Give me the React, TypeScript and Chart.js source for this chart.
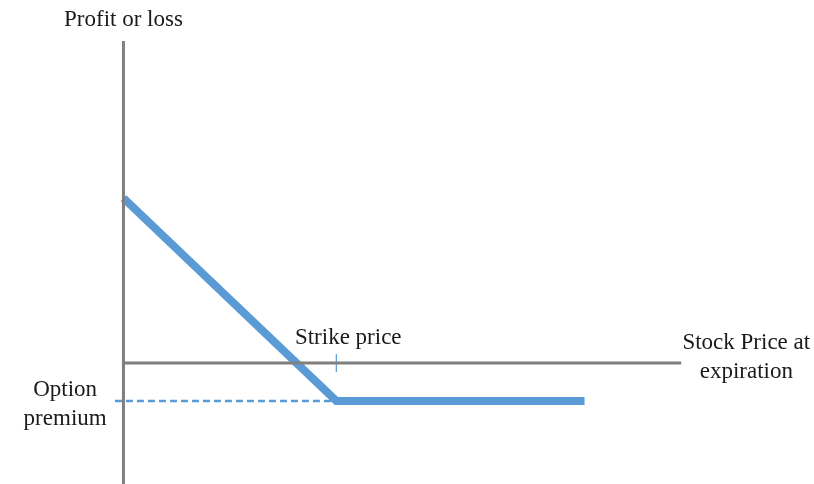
import React, { useEffect, useRef } from "react";
import { Chart, registerables } from "chart.js";

Chart.register(...registerables);

// Data (stock price units on x, profit/loss units on y)
const strikePrice = 50;
const optionPremium = -8.9;
const payoffX = [0, 50, 108.3];
const payoffY = [38.7, -8.9, -8.9];
const premiumX = [-2, 50];
const premiumY = [optionPremium, optionPremium];
const yAxisX = [0, 0];
const yAxisY = [75.6, -28.4];
const xAxisX = [0, 131];
const xAxisY = [0, 0];
const tickX = [strikePrice, strikePrice];
const tickY = [2.1, -2.1];

const toPts = (xs: number[], ys: number[]) => xs.map((x, i) => ({ x, y: ys[i] }));

const BLUE = "#5b9bd5";
const GRAY = "#7f7f7f";
const FONT = "23px 'Liberation Serif', 'Times New Roman', serif";

const labels = [
  { lines: ["Profit or loss"], x: 0, y: 79.1, align: "center" as CanvasTextAlign },
  { lines: ["Strike price"], x: 52.8, y: 4.5, align: "center" as CanvasTextAlign },
  { lines: ["Stock Price at", "expiration"], x: 146.3, y: 3.3, align: "center" as CanvasTextAlign },
  { lines: ["Option", "premium"], x: -13.7, y: -7.7, align: "center" as CanvasTextAlign },
];

const textPlugin = {
  id: "textLabels",
  afterDatasetsDraw(chart: any) {
    const { ctx, scales } = chart;
    ctx.save();
    ctx.font = FONT;
    ctx.fillStyle = "#1a1a1a";
    ctx.textBaseline = "alphabetic";
    for (const l of labels) {
      ctx.textAlign = l.align;
      const px = scales.x.getPixelForValue(l.x);
      const py = scales.y.getPixelForValue(l.y);
      l.lines.forEach((t, i) => ctx.fillText(t, px, py + i * 29));
    }
    ctx.restore();
  },
};

export default function App() {
  const ref = useRef<HTMLCanvasElement>(null);
  useEffect(() => {
    if (!ref.current) return;
    const chart = new Chart(ref.current, {
      type: "scatter",
      data: {
        datasets: [
          { data: toPts(yAxisX, yAxisY), borderColor: GRAY, borderWidth: 3, showLine: true, pointRadius: 0, clip: false } as any,
          { data: toPts(xAxisX, xAxisY), borderColor: GRAY, borderWidth: 3, showLine: true, pointRadius: 0, clip: false },
          { data: toPts(tickX, tickY), borderColor: BLUE, borderWidth: 1.2, showLine: true, pointRadius: 0, clip: false },
          { data: toPts(premiumX, premiumY), borderColor: BLUE, borderWidth: 2.5, borderDash: [7, 4], showLine: true, pointRadius: 0, clip: false },
          { data: toPts(payoffX, payoffY), borderColor: BLUE, borderWidth: 8, borderJoinStyle: "miter", borderCapStyle: "butt", showLine: true, pointRadius: 0, clip: false },
        ],
      },
      options: {
        responsive: false,
        animation: false,
        layout: { padding: 0 },
        plugins: { legend: { display: false }, tooltip: { enabled: false } },
        scales: {
          x: { type: "linear", min: -29, max: 162.2, display: false },
          y: { type: "linear", min: -28.4, max: 85.2, display: false },
        },
      },
      plugins: [textPlugin],
    });
    return () => chart.destroy();
  }, []);
  return (
    <div style={{ position: "fixed", left: 0, top: 0, width: 814, height: 484, background: "#fff" }}>
      <canvas ref={ref} width={814} height={484} />
    </div>
  );
}
